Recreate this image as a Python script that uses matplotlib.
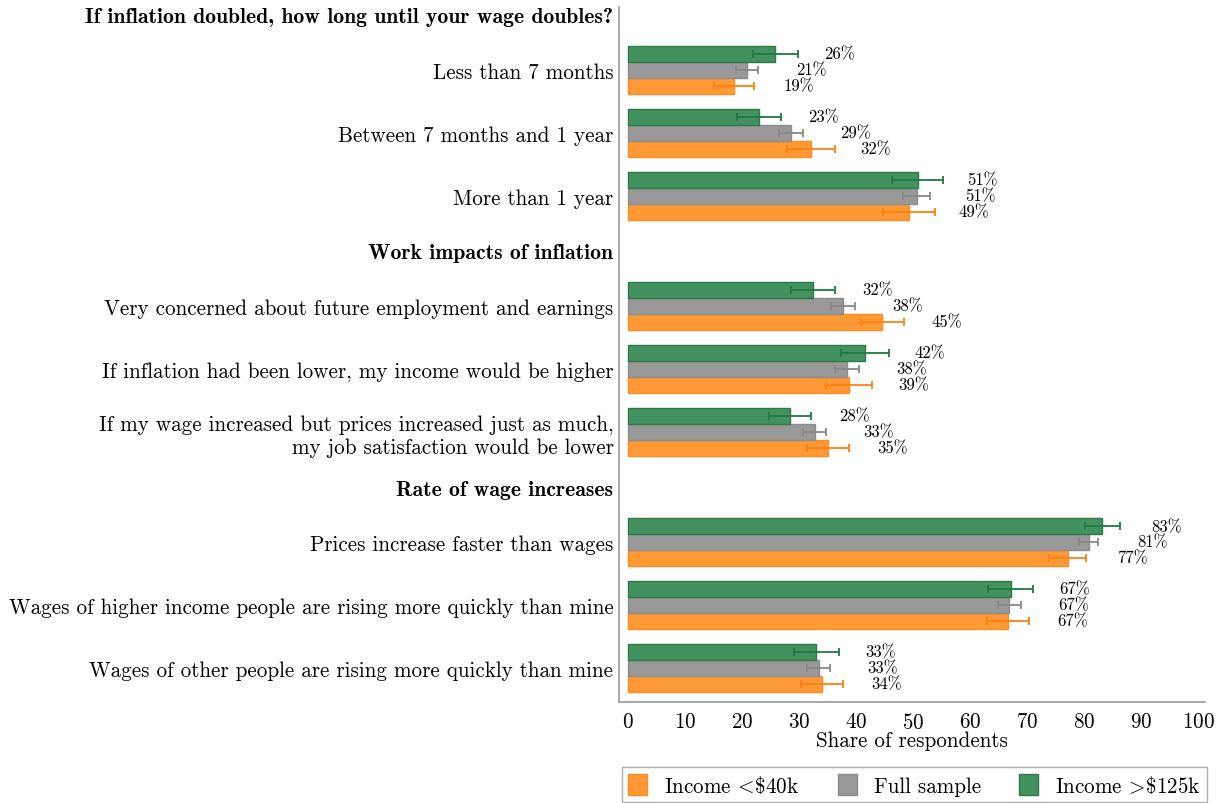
import matplotlib
matplotlib.use("Agg")
import matplotlib.pyplot as plt
import numpy as np
from matplotlib.font_manager import FontProperties
from matplotlib.patches import Patch

plt.rcParams['font.family'] = 'cmr10'
plt.rcParams['mathtext.fontset'] = 'cm'
plt.rcParams['axes.formatter.use_mathtext'] = True

# sections and their questions
headers = ["If inflation doubled, how long until your wage doubles?",
           "Work impacts of inflation",
           "Rate of wage increases"]
items = [["Less than 7 months", "Between 7 months and 1 year", "More than 1 year"],
         ["Very concerned about future employment and earnings",
          "If inflation had been lower, my income would be higher",
          "If my wage increased but prices increased just as much,\nmy job satisfaction would be lower"],
         ["Prices increase faster than wages",
          "Wages of higher income people are rising more quickly than mine",
          "Wages of other people are rising more quickly than mine"]]

# shares (%) and error half-widths, in question order
low_inc = [18.6, 32.1, 49.3, 44.6, 38.8, 35.1, 77.1, 66.7, 34.0]
low_err = [3.55, 4.27, 4.5, 3.8, 4.0, 3.7, 3.25, 3.68, 3.66]
full = [20.8, 28.6, 50.6, 37.7, 38.4, 32.7, 80.8, 66.9, 33.4]
full_err = [1.93, 2.1, 2.4, 2.07, 2.17, 2.0, 1.7, 2.05, 2.02]
high_inc = [25.8, 23.0, 50.8, 32.4, 41.6, 28.4, 83.2, 67.1, 33.0]
high_err = [3.95, 3.83, 4.5, 3.9, 4.2, 3.75, 3.13, 3.92, 3.95]

series_names = ["Income $\\!<\\!$\\$40k", "Full sample", "Income $\\!>\\!$\\$125k"]
fills = ["#fe9936", "#999999", "#43915e"]
edges = ["#ff8c1f", "#8c8c8c", "#2b7a48"]
ecols = ["#ff7f0e", "#888888", "#1e7a3e"]

# y positions: questions 1 apart, headers sit between sections
pos, hpos = [], []
y = 0.125
for k, sec in enumerate(items):
    hpos.append(y)
    y += 0.875
    for q in sec:
        pos.append(y)
        y += 1
    y -= 0.125
pos = np.array(pos)

fig = plt.figure(figsize=(12.25, 8.04), dpi=100)
ax = fig.add_axes([619 / 1225, 1 - 703 / 804, (1205 - 619) / 1225, (703 - 8) / 804])

h = 0.254
vals = [low_inc, full, high_inc]
errs = [low_err, full_err, high_err]
offs = [h, 0, -h]
for v, e, off, fc, ec, erc in zip(vals, errs, offs, fills, edges, ecols):
    ax.barh(pos + off, v, height=h, color=fc, edgecolor=ec, linewidth=1,
            xerr=e, error_kw=dict(ecolor=erc, elinewidth=1.3, capsize=3, capthick=1.3))
    for yy, val in zip(pos + off, v):
        ax.text(val + 8.6, yy, "%d%%" % round(val), va='center', ha='left', fontsize=12)

ticks = list(pos) + hpos
labels = [q for sec in items for q in sec] + headers
ax.set_yticks(ticks)
ax.set_yticklabels(labels, fontsize=15.2)
bold = FontProperties(family='cmb10', size=15.6)
for lab in ax.get_yticklabels()[len(pos):]:
    lab.set_fontproperties(bold)

ax.set_ylim(11.04, 0)
ax.set_xlim(-1.6, 101.2)
ax.set_xticks(np.arange(0, 101, 10))
ax.tick_params(axis='x', length=0, labelsize=15.2, pad=7)
ax.tick_params(axis='y', length=0, pad=4)
ax.set_xlabel("Share of respondents", fontsize=15.2, labelpad=-1)

for s in ['top', 'right']:
    ax.spines[s].set_visible(False)
for s in ['left', 'bottom']:
    ax.spines[s].set_color('#999999')
    ax.spines[s].set_linewidth(1.2)

handles = [Patch(facecolor=fc, edgecolor=ec) for fc, ec in zip(fills, edges)]
fig.legend(handles, series_names, loc='lower left', ncol=3, mode='expand',
           bbox_to_anchor=(622 / 1225, 1 - 803 / 804, 585 / 1225, 33 / 804),
           fontsize=15.2, frameon=True, fancybox=False, edgecolor='#999999',
           handlelength=0.9, handleheight=1.1, borderaxespad=0, borderpad=0.3)

fig.savefig("out.png", dpi=100)
